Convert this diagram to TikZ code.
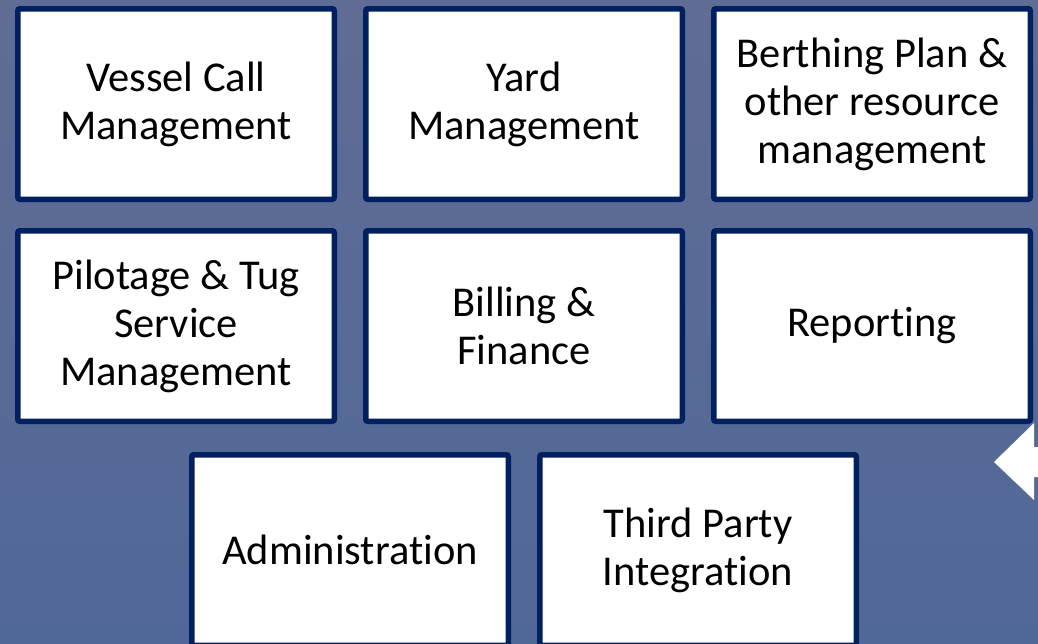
\documentclass[tikz,border=0pt]{standalone}
\usepackage{fontspec}
\setmainfont{Carlito}[RawFeature=-liga]
\usetikzlibrary{positioning,calc}
\definecolor{navy}{RGB}{0,32,96}
\definecolor{bgtop}{RGB}{96,108,148}
\definecolor{bgbot}{RGB}{80,104,152}
\tikzset{
 module/.style
  = {rectangle, draw=navy, fill=white, line width=5.5pt, rounded corners=2pt,
     minimum width=316.5pt, minimum height=190.5pt, align=center, text=black,
     font=\fontsize{42.5}{48}\selectfont, inner sep=0pt},
}

\begin{document}
\begin{tikzpicture}[x=1pt, y=-1pt, node distance=26pt]

% Background
\shade[top color=bgtop, bottom color=bgbot] (0,0) rectangle (1038,643);
\useasboundingbox (0,0) rectangle (1038,643);
\clip (0,0) rectangle (1038,643);

% Row 1
\node[module] (vessel) at (176,104) {Vessel Call\\Management};
\node[module, right=of vessel] (yard) {Yard\\Management};
\node[module, right=of yard] (berth) {Berthing Plan \&\\other resource\\management};

% Row 2
\node[module, below=of vessel] (pilot) {Pilotage \& Tug\\Service\\Management};
\node[module, right=of pilot] (bill) {Billing \&\\Finance};
\node[module, right=of bill] (report) {Reporting};

% Row 3
\node[module, anchor=north] (admin) at ($(pilot.south)!0.5!(bill.south)+(0,28)$) {Administration};
\node[module, right=of admin] (third) {Third Party\\Integration};

% Side arrow
\fill[white] (994,462) -- (1034,423) -- (1034,447) -- (1040,447)
  -- (1040,477) -- (1034,477) -- (1034,500) -- cycle;

\end{tikzpicture}
\end{document}
